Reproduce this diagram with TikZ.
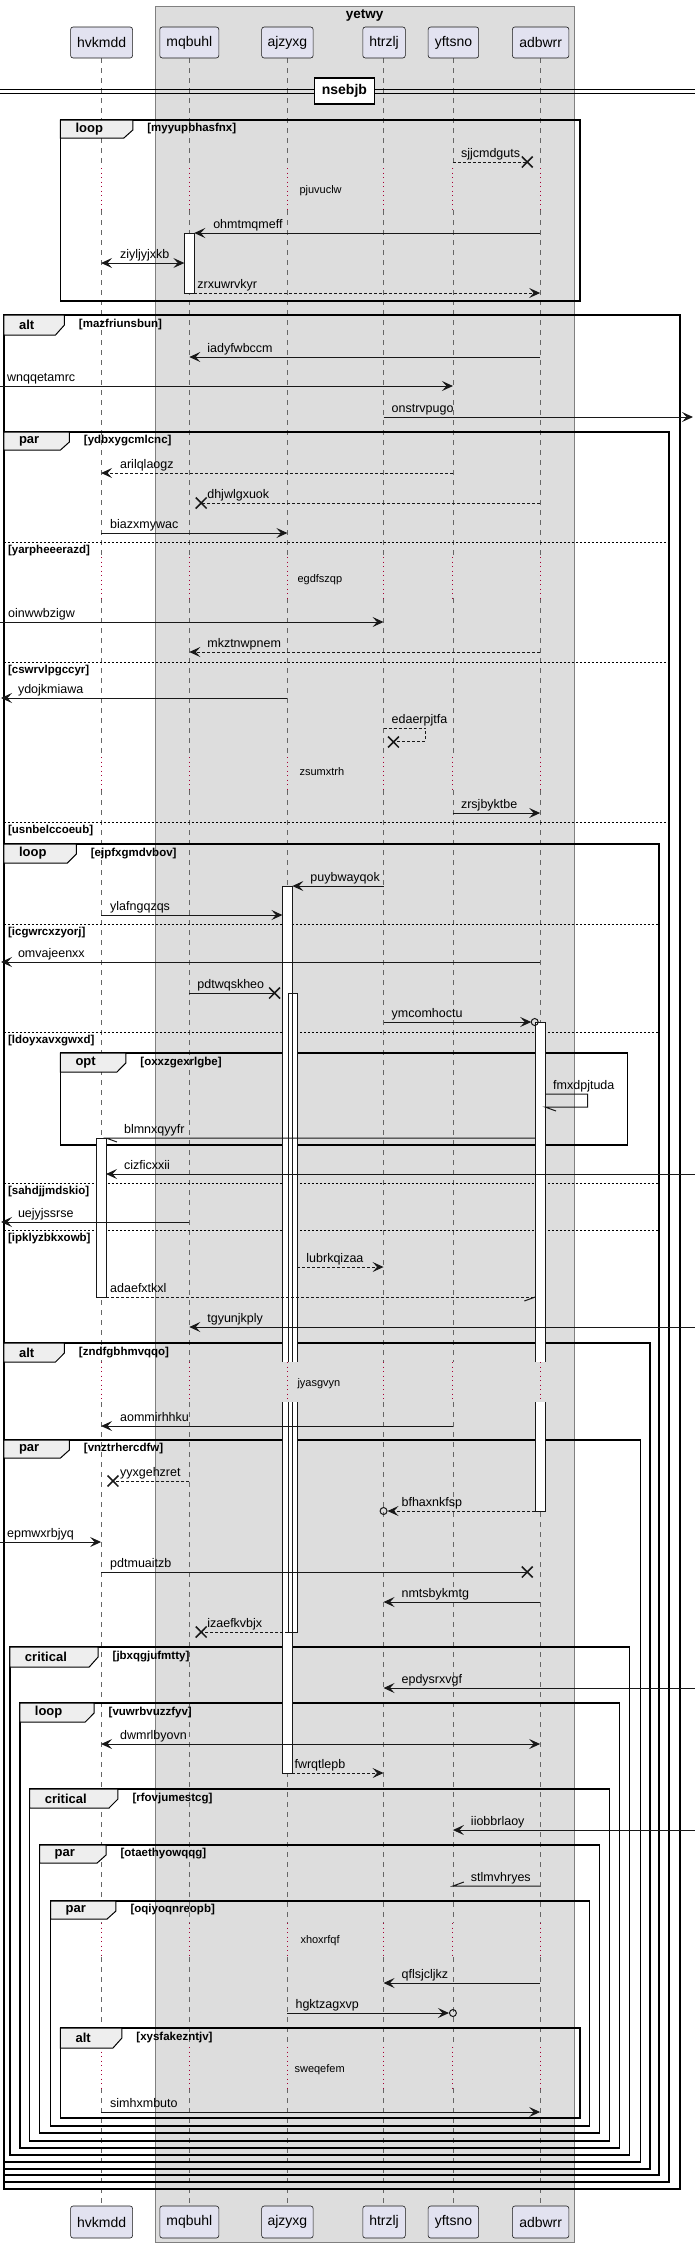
\documentclass[tikz,border=0pt]{standalone}
\usepackage{fontspec}
\setmainfont{Liberation Sans}
\usetikzlibrary{arrows.meta}
\definecolor{ln}{HTML}{181818}
\definecolor{partfill}{HTML}{E2E2F0}
\definecolor{boxfill}{HTML}{DDDDDD}
\definecolor{tabfill}{HTML}{EEEEEE}
\definecolor{delayred}{HTML}{A80036}
\tikzset{
  lifeline/.style={draw=black!60, line width=0.6pt, dash pattern=on 5pt off 5pt},
  delayl/.style={draw=delayred, line width=0.9pt, dash pattern=on 1pt off 3.5pt},
  partbox/.style={draw=ln, fill=partfill, rounded corners=2.5pt, line width=0.6pt, font=\fontsize{14}{16}\selectfont, minimum height=31pt, inner sep=0pt},
  frameline/.style={draw=black, line width=1.5pt},
  tabshape/.style={draw=black, fill=tabfill, line width=1pt},
  kwlabel/.style={font=\bfseries\fontsize{13}{15}\selectfont, anchor=west, inner sep=0pt},
  guardlabel/.style={font=\bfseries\fontsize{11.5}{13}\selectfont, anchor=west, inner sep=0pt},
  sepline/.style={draw=black, line width=0.8pt, dash pattern=on 2pt off 2pt},
  msgline/.style={draw=ln, line width=1pt},
  msg/.style={msgline, -{Stealth[length=11pt,width=10pt,inset=4.5pt]}},
  dmsg/.style={msg, dash pattern=on 3pt off 2pt},
  bimsg/.style={msgline, {Stealth[length=11pt,width=10pt,inset=4.5pt]}-{Stealth[length=11pt,width=10pt,inset=4.5pt]}},
  dline/.style={msgline, dash pattern=on 3pt off 2pt},
  mlabel/.style={font=\fontsize{12.5}{14}\selectfont, anchor=base west, inner sep=0pt},
  dlabel/.style={font=\fontsize{11}{13}\selectfont, anchor=west, inner sep=0pt},
  xmk/.style={draw=ln, line width=1.5pt},
  circ/.style={draw=ln, line width=1pt},
  actline/.style={draw=ln, line width=0.8pt},
}
\newcommand{\frm}[8]{%
  \draw[frameline] (#1,#2) rectangle (#3,#4);
  \filldraw[tabshape] (#1,#2) -- (#5,#2) -- (#5,{#2+10}) -- ({#5-9},#6) -- (#1,#6) -- cycle;
  \node[kwlabel] at ({#1+15},{(#2+#6)/2}) {#7};
  \node[guardlabel] at ({#5+14.5},{(#2+#6)/2}) {[#8]};
}
\newcommand{\sepl}[4]{%
  \draw[sepline] (#1,#3) -- (#2,#3);
  \node[guardlabel] at ({#1+4},{#3+9}) {[#4]};
}
\newcommand{\xmark}[2]{%
  \draw[xmk] ({#1-5.5},{#2-5.5}) -- ({#1+5.5},{#2+5.5}) ({#1-5.5},{#2+5.5}) -- ({#1+5.5},{#2-5.5});
}
\newcommand{\ml}[3]{\node[mlabel] at (#1,{#2-5}) {#3};}
\begin{document}
\begin{tikzpicture}[x=0.9911pt,y=-1pt]
\useasboundingbox (0,0) rectangle (701.2,2247);
% group box
\filldraw[fill=boxfill, draw=black!50, line width=0.7pt] (157,6) rectangle (579,2242);
\node[font=\bfseries\fontsize{13.5}{16}\selectfont] (yetwy) at (368,15) {yetwy};
% lifelines
\foreach \x in {102,191,290,387,457,545} {
  \foreach \a/\b in {58/168,210/557,598/757,790/1362,1402/1923,1957/2047,2088/2206}
    \draw[lifeline] (\x,\a) -- (\x,\b);
  \foreach \a/\b in {168/210,557/598,757/790,1362/1402,1923/1957,2047/2088}
    \draw[delayl] (\x,\a) -- (\x,\b);
}
% participants
\node[partbox, minimum width=62pt] (hvkmdd) at (102.5,42.5) {hvkmdd};
\node[partbox, minimum width=59pt] (mqbuhl) at (191,42.5) {mqbuhl};
\node[partbox, minimum width=51.5pt] (ajzyxg) at (290,42.5) {ajzyxg};
\node[partbox, minimum width=42.5pt] (htrzlj) at (387.5,42.5) {htrzlj};
\node[partbox, minimum width=50.5pt] (yftsno) at (457.5,42.5) {yftsno};
\node[partbox, minimum width=56.5pt] (adbwrr) at (545.5,42.5) {adbwrr};
\node[partbox, minimum width=62pt, minimum height=32pt] (hvkmddB) at (102.5,2222) {hvkmdd};
\node[partbox, minimum width=59pt, minimum height=32pt] (mqbuhlB) at (191,2222) {mqbuhl};
\node[partbox, minimum width=51.5pt, minimum height=32pt] (ajzyxgB) at (290,2222) {ajzyxg};
\node[partbox, minimum width=42.5pt, minimum height=32pt] (htrzljB) at (387.5,2222) {htrzlj};
\node[partbox, minimum width=50.5pt, minimum height=32pt] (yftsnoB) at (457.5,2222) {yftsno};
\node[partbox, minimum width=56.5pt, minimum height=32pt] (adbwrrB) at (545.5,2222) {adbwrr};
% divider
\draw[black, line width=1pt] (0,89.5) -- (701.2,89.5) (0,93) -- (701.2,93);
\node[draw=black, line width=1.5pt, fill=white, minimum width=60pt, minimum height=26pt, inner sep=0pt, font=\bfseries\fontsize{14}{16}\selectfont] (nsebjb) at (347.5,91) {nsebjb};
% frames
\frm{61}{120}{585}{301}{134}{138}{loop}{myyupbhasfnx}
\frm{4}{315}{686}{2189}{65}{335}{alt}{mazfriunsbun}
\frm{4}{432}{675}{2182}{70}{450}{par}{ydbxygcmlcnc}
\frm{4}{844}{665}{2175}{77}{863}{loop}{ejpfxgmdvbov}
\frm{61}{1053}{633}{1145}{127}{1072}{opt}{oxxzgexrlgbe}
\frm{4}{1343}{656}{2169}{65}{1362}{alt}{zndfgbhmvqqo}
\frm{4}{1440}{646}{2162}{70}{1458}{par}{vnztrhercdfw}
\frm{10}{1647}{635}{2155}{99}{1667}{critical}{jbxqgjufmtty}
\frm{20}{1703}{625}{2148}{95}{1722}{loop}{vuwrbvuzzfyv}
\frm{30}{1789}{615}{2141}{119}{1808}{critical}{rfovjumestcg}
\frm{40}{1845}{605}{2133}{107}{1863}{par}{otaethyowqqg}
\frm{51}{1901}{595}{2126}{117}{1919}{par}{oqiyoqnreopb}
\frm{61}{2028}{585}{2118}{123}{2048}{alt}{xysfakezntjv}
% separators
\sepl{4}{675}{542}{yarpheeerazd}
\sepl{4}{675}{662}{cswrvlpgccyr}
\sepl{4}{675}{822}{usnbelccoeub}
\sepl{4}{665}{924}{icgwrcxzyorj}
\sepl{4}{665}{1032}{ldoyxavxgwxd}
\sepl{4}{665}{1183}{sahdjjmdskio}
\sepl{4}{665}{1230}{ipklyzbkxowb}
% activations
\fill[white] (186,233) rectangle (196,293);
\fill[white] (97,1138) rectangle (107,1297);
\fill[white] (285,886) rectangle (295,1362);
\fill[white] (285,1402) rectangle (295,1773);
\fill[white] (291,993) rectangle (300,1362);
\fill[white] (291,1402) rectangle (300,1632);
\fill[white] (540,1022) rectangle (550,1362);
\fill[white] (540,1402) rectangle (550,1511);
\draw[actline] (186,233) rectangle (196,293);
\draw[actline] (97,1138) rectangle (107,1297);
\draw[actline] (285,1362) -- (285,886) -- (295,886) -- (295,1362);
\draw[actline] (285,1402) -- (285,1773) -- (295,1773) -- (295,1402);
\draw[actline] (291,1362) -- (291,993) -- (300,993) -- (300,1362);
\draw[actline] (291,1402) -- (291,1632) -- (300,1632) -- (300,1402);
\draw[actline] (540,1362) -- (540,1022) -- (550,1022) -- (550,1362);
\draw[actline] (540,1402) -- (540,1511) -- (550,1511) -- (550,1402);
% delay texts
\node[dlabel] at (302,191) {pjuvuclw};
\node[dlabel] at (300,580) {egdfszqp};
\node[dlabel] at (302,772) {zsumxtrh};
\node[dlabel] at (300,1384) {jyasgvyn};
\node[dlabel] at (303,1941) {xhoxrfqf};
\node[dlabel] at (297,2070) {sweqefem};
% messages
\draw[dline] (457,162) -- (532,162); \xmark{532}{162}
\draw[msg] (545,233) -- (196,233);
\draw[bimsg] (102,263) -- (186,263);
\draw[dmsg] (196,293) -- (545,293);
\draw[msg] (545,357) -- (191,357);
\draw[msg] (0,386) -- (457,386);
\draw[msg] (387,417) -- (699.2,417);
\draw[dmsg] (457,473) -- (102,473);
\draw[dline] (545,503) -- (203,503); \xmark{203}{503}
\draw[msg] (102,533) -- (290,533);
\draw[msg] (0,622) -- (387,622);
\draw[dmsg] (545,652) -- (191,652);
\draw[msg] (290,698) -- (1,698);
\draw[dline] (387,728) -- (429,728) -- (429,741) -- (397,741); \xmark{397}{742}
\draw[msg] (457,813) -- (545,813);
\draw[msg] (387,886) -- (295,886);
\draw[msg] (102,915) -- (285,915);
\draw[msg] (545,962) -- (1,962);
\draw[msgline] (191,993) -- (277,993); \xmark{277}{993}
\draw[msg] (387,1022) -- (536,1022); \draw[circ] (539.5,1022) circle (3.5);
\draw[msgline] (550,1094) -- (593,1094) -- (593,1107) -- (550,1107) -- (561,1111);
\draw[msgline] (540,1138) -- (107,1138) -- (118,1142);
\draw[msg] (701.2,1174) -- (107,1174);
\draw[msg] (191,1222) -- (1,1222);
\draw[dmsg] (300,1267) -- (387,1267);
\draw[dline] (107,1297) -- (540,1297); \draw[msgline] (540,1297) -- (529,1301);
\draw[msg] (701.2,1327) -- (191,1327);
\draw[msg] (457,1426) -- (102,1426);
\draw[dline] (191,1481) -- (114,1481); \xmark{114}{1481}
\draw[dmsg] (540,1511) -- (391,1511); \draw[circ] (387,1511) circle (3.5);
\draw[msg] (0,1542) -- (102,1542);
\draw[msgline] (102,1572) -- (532,1572); \xmark{532}{1572}
\draw[msg] (545,1602) -- (387,1602);
\draw[dline] (291,1632) -- (203,1632); \xmark{203}{1632}
\draw[msg] (701.2,1688) -- (387,1688);
\draw[bimsg] (102,1744) -- (545,1744);
\draw[dmsg] (295,1773) -- (387,1773);
\draw[msg] (701.2,1830) -- (457,1830);
\draw[msgline] (545,1886) -- (457,1886) -- (468,1882);
\draw[msg] (545,1983) -- (387,1983);
\draw[msg] (290,2013) -- (453,2013); \draw[circ] (457,2013) circle (3.5);
\draw[msg] (102,2112) -- (545,2112);
% message labels
\ml{465}{162}{sjjcmdguts}
\ml{215}{233}{ohmtmqmeff}
\ml{121}{263}{ziyljyjxkb}
\ml{199}{293}{zrxuwrvkyr}
\ml{209}{357}{iadyfwbccm}
\ml{7}{386}{wnqqetamrc}
\ml{395}{417}{onstrvpugo}
\ml{121}{473}{arilqlaogz}
\ml{209}{503}{dhjwlgxuok}
\ml{111}{533}{biazxmywac}
\ml{8}{622}{oinwwbzigw}
\ml{209}{652}{mkztnwpnem}
\ml{18}{698}{ydojkmiawa}
\ml{395}{728}{edaerpjtfa}
\ml{465}{813}{zrsjbyktbe}
\ml{313}{886}{puybwayqok}
\ml{111}{915}{ylafngqzqs}
\ml{18}{962}{omvajeenxx}
\ml{199}{993}{pdtwqskheo}
\ml{395}{1022}{ymcomhoctu}
\ml{558}{1094}{fmxdpjtuda}
\ml{125}{1138}{blmnxqyyfr}
\ml{125}{1174}{cizficxxii}
\ml{18}{1222}{uejyjssrse}
\ml{309}{1267}{lubrkqizaa}
\ml{111}{1297}{adaefxtkxl}
\ml{209}{1327}{tgyunjkply}
\ml{121}{1426}{aommirhhku}
\ml{121}{1481}{yyxgehzret}
\ml{405}{1511}{bfhaxnkfsp}
\ml{7}{1542}{epmwxrbjyq}
\ml{111}{1572}{pdtmuaitzb}
\ml{405}{1602}{nmtsbykmtg}
\ml{209}{1632}{izaefkvbjx}
\ml{405}{1688}{epdysrxvgf}
\ml{121}{1744}{dwmrlbyovn}
\ml{297}{1773}{fwrqtlepb}
\ml{475}{1830}{iiobbrlaoy}
\ml{475}{1886}{stlmvhryes}
\ml{405}{1983}{qflsjcljkz}
\ml{298}{2013}{hgktzagxvp}
\ml{111}{2112}{simhxmbuto}
\end{tikzpicture}
\end{document}
